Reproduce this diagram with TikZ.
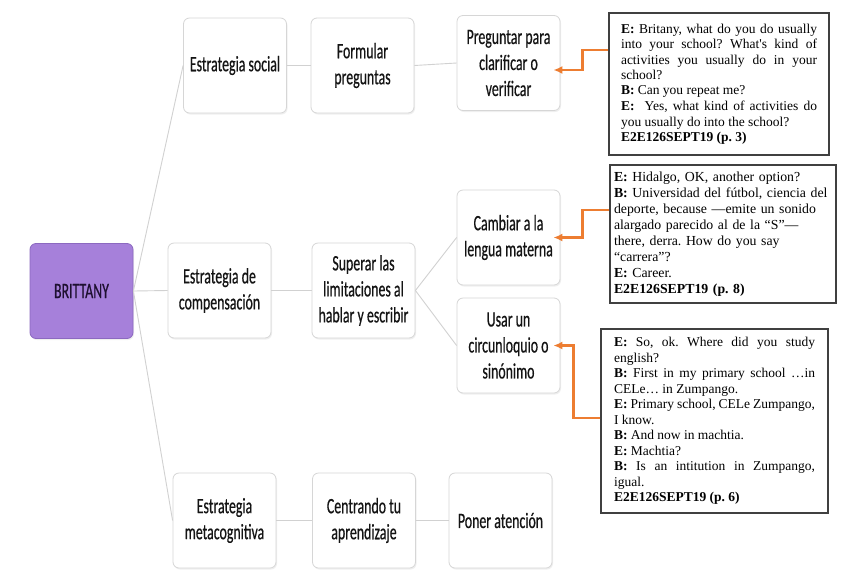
\documentclass[tikz,border=0pt]{standalone}
\usepackage{fontspec}
\usetikzlibrary{arrows.meta,shadows}
\newfontfamily\boxfont[FakeStretch=0.63,FakeBold=0.5]{Carlito}
\newfontfamily\quotefont{Liberation Serif}
\definecolor{lilac}{RGB}{166,128,218}
\definecolor{lilacedge}{RGB}{140,105,192}
\definecolor{linkorange}{RGB}{237,125,49}
\definecolor{boxedge}{RGB}{214,214,214}
\tikzset{
  stratbox/.style={draw=boxedge, line width=0.8pt, fill=white, rounded corners=6pt,
    minimum width=103pt, minimum height=95pt, align=center, text=black!92,
    font=\boxfont\fontsize{22}{26}\selectfont,
    drop shadow={opacity=0.12, shadow xshift=1pt, shadow yshift=-1.5pt}},
  rootbox/.style={stratbox, fill=lilac, draw=lilacedge, text={rgb,255:red,30;green,16;blue,48}},
  quotebox/.style={draw=black!75, line width=1.3pt, fill=white, inner xsep=12pt,
    align=justify, font=\quotefont\fontsize{13.5}{15.5}\selectfont\frenchspacing},
  branch/.style={draw=black!18, line width=0.9pt},
  link/.style={draw=linkorange, line width=2.4pt, shorten >=-7pt,
    -{Latex[length=9pt,width=8pt]}}
}
\begin{document}
\begin{tikzpicture}[x=1pt,y=-1pt]
  \fill[white] (0,0) rectangle (843,579);
  \useasboundingbox (0,0) rectangle (843,579);

  % mind map boxes
  \node[rootbox] (brit) at (81.5,291) {BRITTANY};
  \node[stratbox] (soc)  at (235,65.5)  {Estrategia social};
  \node[stratbox] (form) at (362.5,65.5) {Formular\\preguntas};
  \node[stratbox] (preg) at (508.5,63)  {Preguntar para\\clarificar o\\verificar};
  \node[stratbox] (comp) at (219.5,290.5) {Estrategia de\\compensación};
  \node[stratbox] (sup)  at (363.5,290.5) {Superar las\\limitaciones al\\hablar y escribir};
  \node[stratbox] (camb) at (508.5,237.5) {Cambiar a la\\lengua materna};
  \node[stratbox] (usar) at (508.5,345.5) {Usar un\\circunloquio o\\sinónimo};
  \node[stratbox] (meta) at (224.5,520.5) {Estrategia\\metacognitiva};
  \node[stratbox] (cent) at (364,520.5)   {Centrando tu\\aprendizaje};
  \node[stratbox] (pon)  at (500.5,520.5) {Poner atención};

  \draw[branch] (brit.east) -- (soc.west);
  \draw[branch] (brit.east) -- (comp.west);
  \draw[branch] (brit.east) -- (meta.west);
  \draw[branch] (soc.east) -- (form.west);
  \draw[branch] (form.east) -- (preg.west);
  \draw[branch] (comp.east) -- (sup.west);
  \draw[branch] (sup.east) -- (camb.west);
  \draw[branch] (sup.east) -- (usar.west);
  \draw[branch] (meta.east) -- (cent.west);
  \draw[branch] (cent.east) -- (pon.west);

  % interview excerpts
  \node[quotebox, text width=196pt, minimum height=142pt] (q1) at (719,84) {%
    \textbf{E:} Britany, what do you do usually\linebreak
    into your school? What's kind of\linebreak
    activities you usually do in your\linebreak
    school?\\
    \textbf{B:} Can you repeat me?\\
    \textbf{E:}~ Yes, what kind of activities do\linebreak
    you usually do into the school?\\
    \textbf{E2E126SEPT19 (p. 3)}};
  \node[quotebox, inner xsep=4pt, text width=218pt, minimum height=138pt, align=left,
    font=\quotefont\fontsize{13.8}{16}\selectfont\frenchspacing] (q2) at (723,234) {%
    \textbf{E:} Hidalgo, OK, another option?\\
    \textbf{B:} Universidad del fútbol, ciencia del\\
    deporte, because —emite un sonido\\
    alargado parecido al de la “S”—\\
    there, derra. How do you say\\
    “carrera”?\\
    \textbf{E:} Career.\\
    \textbf{E2E126SEPT19 (p. 8)}};
  \node[quotebox, inner xsep=13pt, text width=201pt, minimum height=184pt] (q3) at (714.5,421) {%
    \textbf{E:} So, ok. Where did you study\linebreak
    english?\\
    \textbf{B:} First in my primary school …in\linebreak
    CELe… in Zumpango.\\
    \textbf{E:} Primary school, CELe Zumpango,\linebreak
    I know.\\
    \textbf{B:} And now in machtia.\\
    \textbf{E:} Machtia?\\
    \textbf{B:} Is an intitution in Zumpango,\linebreak
    igual.\\
    \textbf{E2E126SEPT19 (p. 6)}};

  \draw[link] ([yshift=34pt]q1.west) -| ([xshift=22pt,yshift=-7pt]preg.east) -- ([yshift=-7pt]preg.east);
  \draw[link] ([yshift=24pt]q2.west) -| ([xshift=22pt]camb.east) -- (camb.east);
  \draw[link] ([yshift=3pt]q3.west) -| ([xshift=13pt]usar.east) -- (usar.east);
\end{tikzpicture}
\end{document}
